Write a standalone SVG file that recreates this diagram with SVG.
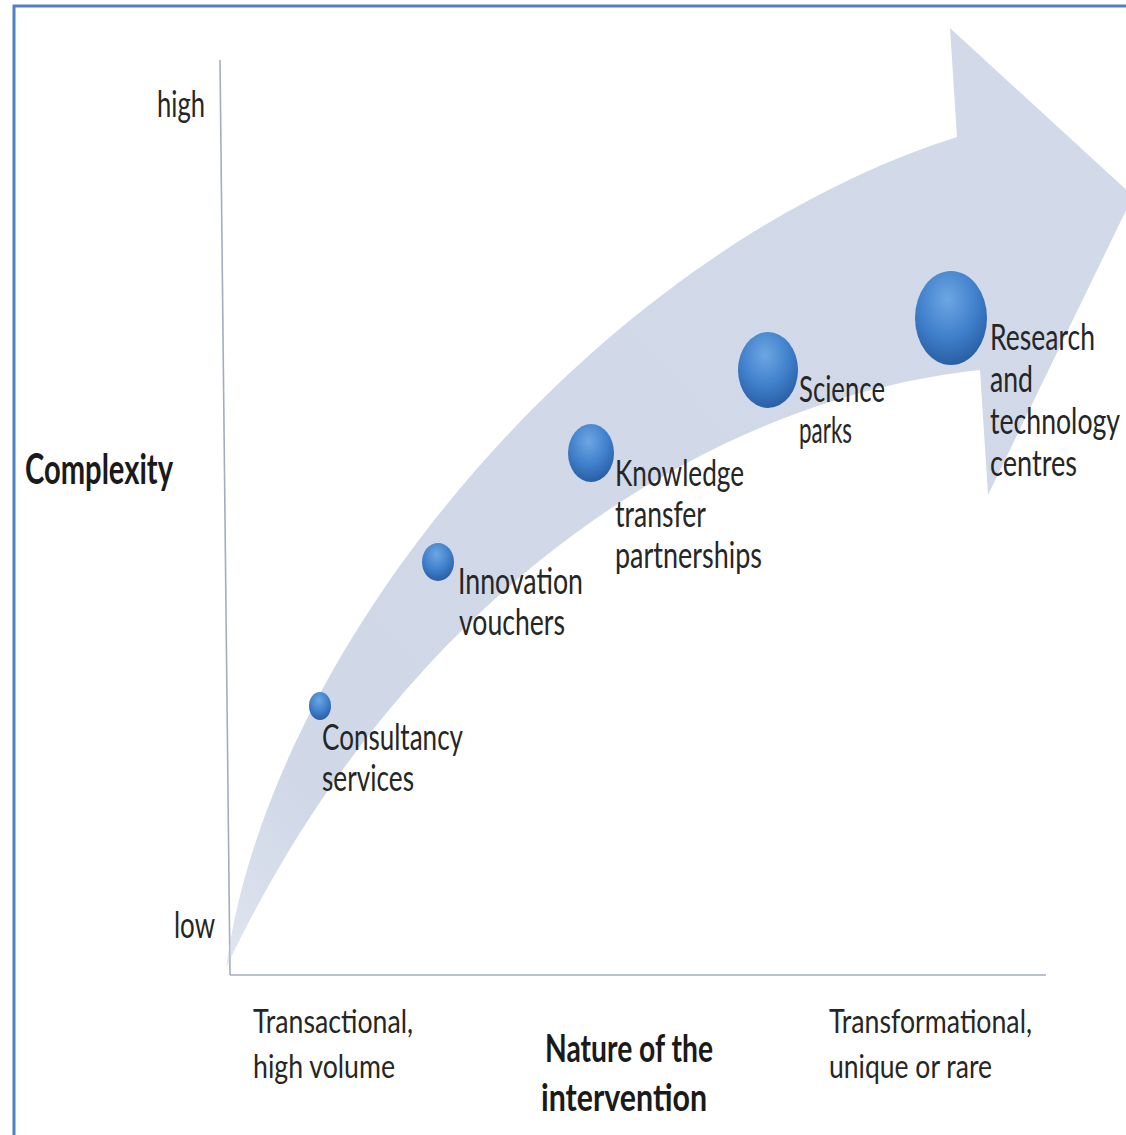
<svg xmlns="http://www.w3.org/2000/svg" width="1126" height="1135" viewBox="0 0 1126 1135">
<defs>
<style>
.lbl{font-family:Lato,"Liberation Sans",sans-serif;font-size:28px;fill:#262626}
.sm{font-family:Lato,"Liberation Sans",sans-serif;font-size:26px;fill:#262626}
.bold{font-family:Lato,"Liberation Sans",sans-serif;font-weight:bold;fill:#1a1a1a}
.axis{stroke:#a3adbd;stroke-width:1.6;fill:none}
</style>
<linearGradient id="band" x1="226" y1="968" x2="1100" y2="150" gradientUnits="userSpaceOnUse">
<stop offset="0" stop-color="#c3cde0" stop-opacity="0.5"/>
<stop offset="0.15" stop-color="#d0d8e8"/>
<stop offset="1" stop-color="#d2dae9"/>
</linearGradient>
<radialGradient id="ball" cx="0.45" cy="0.3" r="0.75">
<stop offset="0" stop-color="#6da6e2"/>
<stop offset="0.55" stop-color="#3f7fcb"/>
<stop offset="1" stop-color="#26599c"/>
</radialGradient>
</defs>
<rect x="0" y="0" width="1126" height="1135" fill="#ffffff"/>
<rect x="14" y="6" width="1200" height="1200" fill="none" stroke="#4f81c7" stroke-width="3"/>
<g id="connectors">
<line class="axis" x1="220" y1="60" x2="230" y2="975"/>
<line class="axis" x1="230" y1="975" x2="1046" y2="975"/>
<path id="arrow" d="M226,968 C270,640 600,250 957,137 L950,28 L1133,196 L988,495 L980,370 C700,400 400,600 226,968 Z" fill="url(#band)"/>
</g>
<g id="axis-labels">
<text class="lbl" transform="translate(157,117) scale(1,1.3)" textLength="48" lengthAdjust="spacingAndGlyphs">high</text>
<text class="lbl" transform="translate(174,938) scale(1,1.3)" textLength="41" lengthAdjust="spacingAndGlyphs">low</text>
<text class="bold" font-size="32" transform="translate(25,484) scale(1,1.3)" textLength="148" lengthAdjust="spacingAndGlyphs">Complexity</text>
<text class="sm" transform="translate(253,1033) scale(1,1.25)" textLength="160" lengthAdjust="spacingAndGlyphs">Transactional,</text>
<text class="sm" transform="translate(253,1078) scale(1,1.25)" textLength="142" lengthAdjust="spacingAndGlyphs">high volume</text>
<text class="bold" font-size="30" transform="translate(545,1062) scale(1,1.25)" textLength="168" lengthAdjust="spacingAndGlyphs">Nature of the</text>
<text class="bold" font-size="30" transform="translate(541,1111) scale(1,1.25)" textLength="166" lengthAdjust="spacingAndGlyphs">intervention</text>
<text class="sm" transform="translate(829,1033) scale(1,1.25)" textLength="203" lengthAdjust="spacingAndGlyphs">Transformational,</text>
<text class="sm" transform="translate(829,1078) scale(1,1.25)" textLength="163" lengthAdjust="spacingAndGlyphs">unique or rare</text>
</g>
<g id="consultancy">
<ellipse cx="320" cy="706" rx="11" ry="14" fill="url(#ball)"/>
<text class="lbl" transform="translate(322,750) scale(1,1.3)" textLength="141" lengthAdjust="spacingAndGlyphs">Consultancy</text>
<text class="lbl" transform="translate(322,791) scale(1,1.3)" textLength="92" lengthAdjust="spacingAndGlyphs">services</text>
</g>
<g id="innovation">
<ellipse cx="438" cy="562" rx="16" ry="19" fill="url(#ball)"/>
<text class="lbl" transform="translate(458,594) scale(1,1.3)" textLength="125" lengthAdjust="spacingAndGlyphs">Innovation</text>
<text class="lbl" transform="translate(459,635) scale(1,1.3)" textLength="106" lengthAdjust="spacingAndGlyphs">vouchers</text>
</g>
<g id="knowledge">
<ellipse cx="591" cy="453" rx="23" ry="29" fill="url(#ball)"/>
<text class="lbl" transform="translate(615,486) scale(1,1.3)" textLength="129" lengthAdjust="spacingAndGlyphs">Knowledge</text>
<text class="lbl" transform="translate(615,527) scale(1,1.3)" textLength="91" lengthAdjust="spacingAndGlyphs">transfer</text>
<text class="lbl" transform="translate(615,568) scale(1,1.3)" textLength="147" lengthAdjust="spacingAndGlyphs">partnerships</text>
</g>
<g id="science">
<ellipse cx="768" cy="370" rx="30" ry="38" fill="url(#ball)"/>
<text class="lbl" transform="translate(799,402) scale(1,1.3)" textLength="86" lengthAdjust="spacingAndGlyphs">Science</text>
<text class="lbl" transform="translate(799,443) scale(1,1.3)" textLength="53" lengthAdjust="spacingAndGlyphs">parks</text>
</g>
<g id="research">
<ellipse cx="951" cy="318" rx="36" ry="47" fill="url(#ball)"/>
<text class="lbl" transform="translate(990,350) scale(1,1.3)" textLength="105" lengthAdjust="spacingAndGlyphs">Research</text>
<text class="lbl" transform="translate(990,392) scale(1,1.3)" textLength="43" lengthAdjust="spacingAndGlyphs">and</text>
<text class="lbl" transform="translate(990,434) scale(1,1.3)" textLength="130" lengthAdjust="spacingAndGlyphs">technology</text>
<text class="lbl" transform="translate(990,476) scale(1,1.3)" textLength="87" lengthAdjust="spacingAndGlyphs">centres</text>
</g>
</svg>
